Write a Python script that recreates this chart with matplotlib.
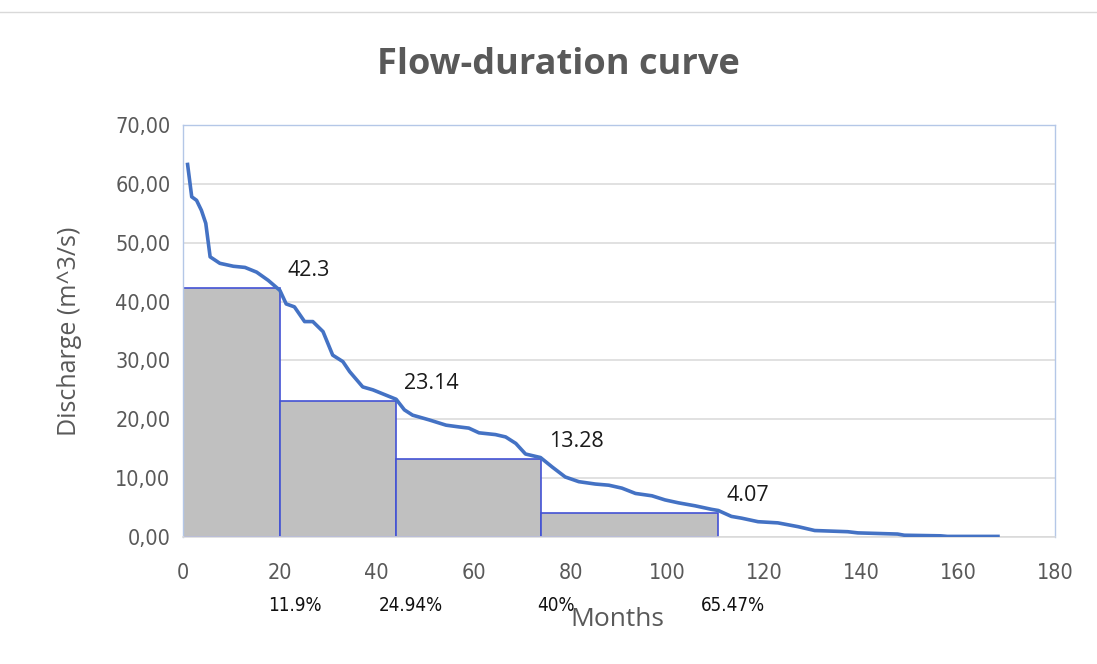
"""Flow-duration curve with the four stepped discharge blocks underneath."""
import matplotlib

matplotlib.use("Agg")
import matplotlib.pyplot as plt
from matplotlib.lines import Line2D

# curve: (month, discharge m^3/s)
MONTHS = [0.9, 1.8, 2.8, 3.8, 4.7, 5.6, 7.6, 10.4, 12.8, 15.2, 17.6, 20.0,
          21.3, 23.0, 25.1, 26.8, 28.9, 30.9, 33.0, 34.4, 37.1, 39.2, 41.9,
          44.0, 45.7, 47.4, 50.8, 54.3, 57.0, 59.0, 61.1, 64.5, 66.6, 68.7,
          70.7, 73.8, 76.2, 78.9, 81.7, 85.1, 87.9, 90.6, 93.4, 96.8, 99.5,
          102.3, 105.7, 109.1, 110.5, 113.2, 115.3, 118.7, 122.8, 127.0,
          130.4, 137.2, 139.3, 147.5, 148.9, 156.4, 157.8, 168.6]
DISCHARGE = [63.6, 57.8, 57.2, 55.5, 53.3, 47.6, 46.5, 46.0, 45.8, 45.0, 43.6,
             41.9, 39.6, 39.1, 36.6, 36.6, 34.9, 30.9, 29.8, 28.1, 25.5, 25.0,
             24.1, 23.4, 21.6, 20.7, 19.9, 19.0, 18.7, 18.5, 17.7, 17.4, 17.0,
             15.9, 14.1, 13.5, 11.9, 10.2, 9.4, 9.0, 8.8, 8.3, 7.4, 7.0, 6.3,
             5.8, 5.3, 4.7, 4.5, 3.5, 3.2, 2.6, 2.4, 1.75, 1.1, 0.9, 0.7, 0.5,
             0.3, 0.2, 0.1, 0.1]

BLOCK_EDGES = [0, 20, 44, 74, 110.5]
BLOCK_Q = [42.3, 23.14, 13.28, 4.07]
BLOCK_LABELS = ["42.3", "23.14", "13.28", "4.07"]
PCT_LABELS = ["11.9%", "24.94%", "40%", "65.47%"]

XTICKS = list(range(0, 181, 20))
YTICKS = list(range(0, 71, 10))

GREY_TXT = "#595959"
SANS = ["Open Sans", "DejaVu Sans"]

fig = plt.figure(figsize=(10.97, 6.64), dpi=100)
ax = fig.add_axes([183 / 1097, 1 - 537 / 664, (1055 - 183) / 1097, (537 - 125) / 664])

widths = [b - a for a, b in zip(BLOCK_EDGES[:-1], BLOCK_EDGES[1:])]
ax.bar(BLOCK_EDGES[:-1], BLOCK_Q, width=widths, align="edge",
       color="#c0c0c0", edgecolor="#4352d4", linewidth=1.2, zorder=2)
ax.plot(MONTHS, DISCHARGE, color="#4472c4", lw=2.6, solid_capstyle="butt",
        solid_joinstyle="round", zorder=3)

# value labels above each block's corner
for right, q, lab in zip(BLOCK_EDGES[1:], BLOCK_Q, BLOCK_LABELS):
    ax.text(right + 1.6, q + 2.9, lab, fontsize=15.5, color="#1a1a1a",
            family=SANS, ha="left", va="center", zorder=4)

# exceedance percentages under the axis
for right, lab in zip(BLOCK_EDGES[1:], PCT_LABELS):
    ax.text(right + 3.0, -11.6, lab, fontsize=13.5, color="#111111",
            family="DejaVu Sans", stretch="condensed", ha="center",
            va="center", clip_on=False)

ax.set_xlim(0, 180)
ax.set_ylim(0, 70)
ax.set_xticks(XTICKS)
ax.set_yticks(YTICKS)
ax.set_yticklabels([f"{v:.2f}".replace(".", ",") for v in YTICKS])
ax.tick_params(length=0, labelsize=15.5, labelcolor=GREY_TXT)
for lab in ax.get_xticklabels() + ax.get_yticklabels():
    lab.set_family("DejaVu Sans")
    lab.set_stretch("condensed")
ax.tick_params(axis="x", pad=19)
ax.tick_params(axis="y", pad=9)

ax.grid(axis="y", color="#d9d9d9", lw=1.1, zorder=0)
ax.set_axisbelow(True)
for side in ("left", "top", "right"):
    ax.spines[side].set_color("#b4c7e7")
    ax.spines[side].set_linewidth(1.0)
ax.spines["bottom"].set_color("#d9d9d9")
ax.spines["bottom"].set_linewidth(1.1)

ax.set_ylabel("Discharge (m^3/s)", fontsize=18, color=GREY_TXT,
              family=SANS, labelpad=24)
fig.text(617 / 1097, 1 - 620 / 664, "Months", fontsize=19, color=GREY_TXT,
         family=SANS, ha="center", va="center")
fig.text(558 / 1097, 1 - 65 / 664, "Flow-duration curve", fontsize=26,
         fontweight="bold", color=GREY_TXT, family=SANS,
         ha="center", va="center")

# thin chart border line along the top of the image
fig.add_artist(Line2D([0, 1], [1 - 12 / 664] * 2, color="#d9d9d9", lw=1.0,
                      transform=fig.transFigure))

fig.savefig("out.png", dpi=100)
